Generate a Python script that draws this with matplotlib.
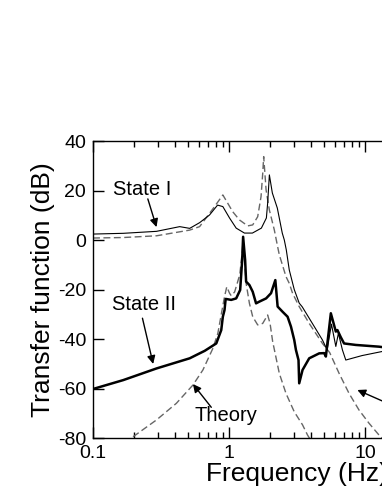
#transfer function (dB) vs frequency, measured state I / state II and theory
import numpy as np
import matplotlib.pyplot as plt

plt.rcParams['font.family'] = ['Liberation Sans', 'DejaVu Sans']
plt.rcParams['axes.unicode_minus'] = False

# state I, measured (thin solid)
f_s1 = [0.1, 0.167, 0.293, 0.434, 0.514, 0.608, 0.719, 0.824, 0.901, 1.009,
        1.129, 1.299, 1.486, 1.730, 1.883, 1.924, 1.981, 2.083, 2.266, 2.464,
        2.551, 2.638, 2.774, 3.018, 3.282, 3.455, 4.091, 4.866, 5.268, 5.666,
        6.102, 6.374, 6.822, 7.223, 9.505, 13.5]
db_s1 = [2.4, 2.7, 3.5, 5.4, 4.7, 7.0, 10.1, 14.1, 13.5, 8.9,
         4.8, 2.8, 2.8, 4.8, 8.9, 14.9, 26.3, 19.0, 12.9, 2.8,
         0.0, -4.0, -12.1, -20.0, -25.5, -27.0, -33.6, -40.4, -44.4, -34.0,
         -43.0, -37.7, -44.4, -48.5, -46.7, -45.0]

# state II, measured (thick solid)
f_s2 = [0.1, 0.167, 0.293, 0.514, 0.608, 0.662, 0.806, 0.877, 0.901, 0.927,
        0.945, 1.038, 1.129, 1.208, 1.250, 1.270, 1.314, 1.336, 1.413, 1.494,
        1.581, 1.672, 1.874, 2.037, 2.191, 2.278, 2.478, 2.696, 2.855, 3.018,
        3.105, 3.244, 3.282, 3.474, 3.888, 4.606, 5.011, 5.155, 5.608, 6.102,
        6.270, 6.639, 7.018, 8.551, 12.67, 13.5]
db_s2 = [-60.2, -56.6, -51.9, -47.8, -45.8, -44.8, -41.8, -36.4, -31.0, -28.3,
         -23.8, -24.2, -23.6, -20.2, -8.1, 1.3, -8.1, -16.8, -18.2, -20.9,
         -25.6, -24.9, -23.6, -21.5, -16.2, -26.9, -29.0, -31.0, -35.0, -40.4,
         -44.4, -48.5, -57.9, -52.5, -47.8, -45.8, -45.7, -47.1, -29.6, -37.0,
         -36.4, -39.3, -41.8, -42.4, -43.1, -43.3]

# theory, state I (dashed)
f_t1 = [0.1, 0.167, 0.293, 0.514, 0.608, 0.783, 0.901, 0.980, 1.066, 1.194,
        1.373, 1.494, 1.625, 1.720, 1.770, 1.799, 1.874, 1.981, 2.155, 2.278,
        2.344, 2.625, 2.774, 2.933, 3.282, 3.888, 4.866, 5.5, 6.451, 7.636,
        9.038, 10.69, 12.67, 14.0]
db_t1 = [0.8, 1.0, 1.7, 4.0, 5.4, 13.5, 18.2, 14.8, 11.4, 8.1,
         5.7, 6.1, 9.4, 17.5, 26.9, 33.7, 20.2, 12.1, 4.0, -2.7,
         -6.0, -14.8, -17.5, -21.5, -26.9, -33.7, -41.8, -45.5, -53.9, -62.0,
         -68.7, -74.0, -78.8, -81.0]

# theory, state II (dashed)
f_t2 = [0.197, 0.293, 0.410, 0.543, 0.643, 0.761, 0.828, 0.881, 0.927, 0.963,
        1.009, 1.038, 1.10, 1.20, 1.25, 1.27, 1.336, 1.413, 1.494, 1.625,
        1.770, 1.924, 2.004, 2.094, 2.344, 2.625, 3.018, 3.474, 3.779, 4.0]
db_t2 = [-79.5, -72.7, -66.0, -58.6, -52.5, -43.8, -37.7, -29.5, -22.9, -18.9,
         -21.5, -22.5, -21.0, -14.0, -5.0, 0.0, -17.5, -25.6, -31.0, -34.3,
         -33.7, -30.3, -33.7, -41.0, -53.9, -62.0, -69.4, -74.7, -78.8, -81.0]


fig = plt.figure(figsize=(3.82, 4.94), dpi=100)
ax = fig.add_axes([93/382, 56/494, 408/382, 297/494])

gray = '#666666'
ax.plot(f_t1, db_t1, color=gray, lw=1.0, dashes=(5, 2.5))
ax.plot(f_t2, db_t2, color=gray, lw=1.0, dashes=(5, 2.5))
ax.plot(f_s1, db_s1, color='k', lw=0.8)
ax.plot(f_s2, db_s2, color='k', lw=1.8)

ax.set_xscale('log')
ax.set_xlim(0.1, 100)
ax.set_ylim(-80, 40)
ax.set_yticks([-80, -60, -40, -20, 0, 20, 40])
ax.set_xticks([0.1, 1, 10, 100])
ax.set_xticklabels(['0.1', '1', '10', '100'])

ax.tick_params(which='both', direction='in', top=True, right=True, labelsize=14, width=1)
ax.tick_params(which='major', length=8, pad=5)
ax.tick_params(which='minor', length=4)
for s in ax.spines.values():
    s.set_linewidth(1.0)

ax.set_xlabel('Frequency (Hz)', fontsize=19, labelpad=0)
ax.set_ylabel('Transfer function (dB)', fontsize=19, labelpad=2)

arr = dict(arrowstyle='-|>', color='k', lw=1, mutation_scale=12, shrinkA=0, shrinkB=0)
ax.text(0.231, 20.6, 'State I', fontsize=14.5, ha='center', va='center')
ax.annotate('', xy=(0.293, 5.2), xytext=(0.253, 16.6), arrowprops=arr)
ax.text(0.238, -25.9, 'State II', fontsize=14.5, ha='center', va='center')
ax.annotate('', xy=(0.277, -50.1), xytext=(0.231, -31.6), arrowprops=arr)
ax.text(0.947, -71.1, 'Theory', fontsize=14.5, ha='center', va='center')
ax.annotate('', xy=(0.543, -58.2), xytext=(0.741, -67.6), arrowprops=arr)
ax.annotate('', xy=(8.79, -60.6), xytext=(16.3, -67.1), arrowprops=arr)

plt.savefig('out.png', dpi=100)
